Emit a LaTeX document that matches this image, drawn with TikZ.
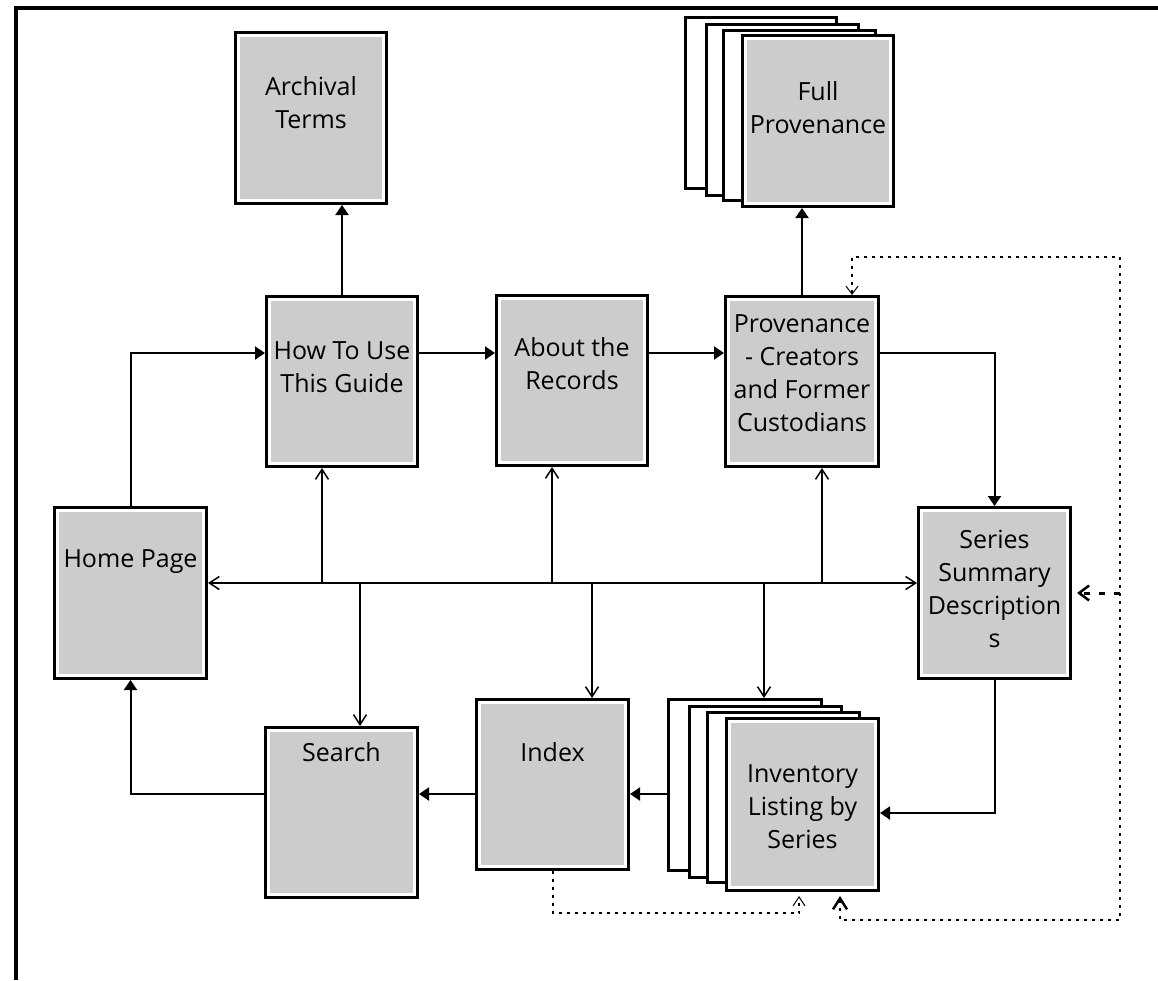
\documentclass[tikz,border=0pt]{standalone}
\usepackage{fontspec}
\setmainfont{Open Sans}
\usetikzlibrary{arrows.meta}
\definecolor{boxgray}{HTML}{CCCCCC}
\begin{document}
\begin{tikzpicture}[x=1pt,y=-1pt,
  box/.style={draw=white, line width=3pt, fill=boxgray, preaction={draw=black, line width=9pt}, inner sep=0pt, outer sep=4.5pt},
  backbox/.style={draw=black, line width=3pt, fill=white, inner sep=0pt, outer sep=1.5pt},
  lbl/.style={align=center, inner sep=0pt, font=\fontsize{25}{33}\selectfont},
  conn/.style={line width=2pt},
  farr/.style={conn, -{Triangle[length=10pt,width=13pt]}},
  oarr/.style={conn, -{Straight Barb[length=10pt,width=13pt,line width=1.5pt]}},
  boarr/.style={conn, {Straight Barb[length=10pt,width=13pt,line width=1.5pt]}-{Straight Barb[length=10pt,width=13pt,line width=1.5pt]}},
  dotline/.style={line width=2pt, dash pattern=on 3pt off 5pt},
  dashline/.style={line width=3pt, dash pattern=on 6pt off 9pt},
]
\useasboundingbox (0,0) rectangle (1158,980);
\draw[line width=4pt] (16,980) -- (16,8) -- (1158,8);

% back boxes
\node[backbox, minimum width=151pt, minimum height=171pt] (fpA) at (761,103) {};
\node[backbox, minimum width=152pt, minimum height=171pt] (fpB) at (782.5,110) {};
\node[backbox, minimum width=152pt, minimum height=170pt] (fpC) at (799.5,115.5) {};
\node[backbox, minimum width=153pt, minimum height=171pt] (invA) at (745,785) {};
\node[backbox, minimum width=152pt, minimum height=171pt] (invB) at (765.5,792) {};
\node[backbox, minimum width=152pt, minimum height=170pt] (invC) at (783.5,797.5) {};

% main boxes
\node[box, minimum width=145pt, minimum height=165pt] (archival) at (311,118) {};
\node[box, minimum width=145pt, minimum height=165pt] (fullprov) at (818,121) {};
\node[box, minimum width=145pt, minimum height=164pt] (howto) at (342,381.5) {};
\node[box, minimum width=145pt, minimum height=164pt] (about) at (572,380.5) {};
\node[box, minimum width=147pt, minimum height=164pt] (prov) at (802,381.5) {};
\node[box, minimum width=146pt, minimum height=165pt] (home) at (130.5,593) {};
\node[box, minimum width=146pt, minimum height=165pt] (series) at (994.5,593) {};
\node[box, minimum width=146pt, minimum height=164pt] (search) at (341.5,812.5) {};
\node[box, minimum width=146pt, minimum height=164pt] (index) at (552.5,784.5) {};
\node[box, minimum width=146pt, minimum height=166pt] (inv) at (802.5,804.5) {};

% labels
\node[lbl] (t-archival) at (311,103) {Archival\\Terms};
\node[lbl] (t-fullprov) at (818,108) {Full\\Provenance};
\node[lbl] (t-howto) at (342,367) {How To Use\\This Guide};
\node[lbl] (t-about) at (572,364) {About the\\Records};
\node[lbl] (t-prov) at (802,373) {Provenance\\- Creators\\and Former\\Custodians};
\node[lbl] (t-home) at (130.5,562) {Home Page};
\node[lbl] (t-series) at (994.5,589) {Series\\Summary\\Description\\s};
\node[lbl] (t-search) at (341.5,752) {Search};
\node[lbl] (t-index) at (552.5,752) {Index};
\node[lbl] (t-inv) at (802.5,807) {Inventory\\Listing by\\Series};

% helper coordinates
\coordinate (rowA) at (0,353);
\coordinate (bus) at (0,583);
\coordinate (rowC) at (0,794);
\coordinate (rowD) at (0,813);
\coordinate (ja) at (322,583);
\coordinate (jb) at (552,583);
\coordinate (jc) at (822,583);
\coordinate (jd) at (360,583);
\coordinate (je) at (592,583);
\coordinate (jf) at (764,583);

% solid connectors
\draw[farr] (home.north) |- (howto.west |- rowA);
\draw[farr] (howto.east |- rowA) -- (about.west |- rowA);
\draw[farr] (about.east |- rowA) -- (prov.west |- rowA);
\draw[farr] (prov.east |- rowA) -| (series.north);
\draw[farr] (series.south) |- (inv.east |- rowD);
\draw[farr] (invA.west |- rowC) -- (index.east |- rowC);
\draw[farr] (index.west |- rowC) -- (search.east |- rowC);
\draw[farr] (search.west |- rowC) -| (home.south);
\draw[farr] (howto.north) -- (howto.north |- archival.south);
\draw[farr] (prov.north) -- (prov.north |- fullprov.south);

% bus
\draw[boarr] (home.east |- bus) -- (series.west |- bus);
\draw[oarr] (ja) -- (ja |- howto.south);
\draw[oarr] (jb) -- (jb |- about.south);
\draw[oarr] (jc) -- (jc |- prov.south);
\draw[oarr] (jd) -- (jd |- search.north);
\draw[oarr] (je) -- (je |- index.north);
\draw[oarr] (jf) -- (jf |- invA.north);

% dotted / dashed connectors
\coordinate (dA) at (799,913);
\coordinate (dB) at (840,920);
\coordinate (dC) at (1120,257);
\coordinate (dS) at (1120,593);
\coordinate (dP) at (852,0);
\draw[dotline, -{Straight Barb[length=9pt,width=12pt,line width=1pt]}, shorten >=4pt] (index.south) |- (dA) -- (dA |- inv.south);
\draw[dotline, {Straight Barb[length=11pt,width=14pt,line width=2.5pt]}-{Straight Barb[length=8pt,width=12pt,line width=1pt]}, shorten <=4pt] (dB |- inv.south) -- (dB) -| (dC) -| (dP |- prov.north);
\draw[dashline, -{Straight Barb[length=10pt,width=15pt,line width=2.5pt]}, shorten >=5pt] (dS) -- (series.east |- dS);
\end{tikzpicture}
\end{document}
